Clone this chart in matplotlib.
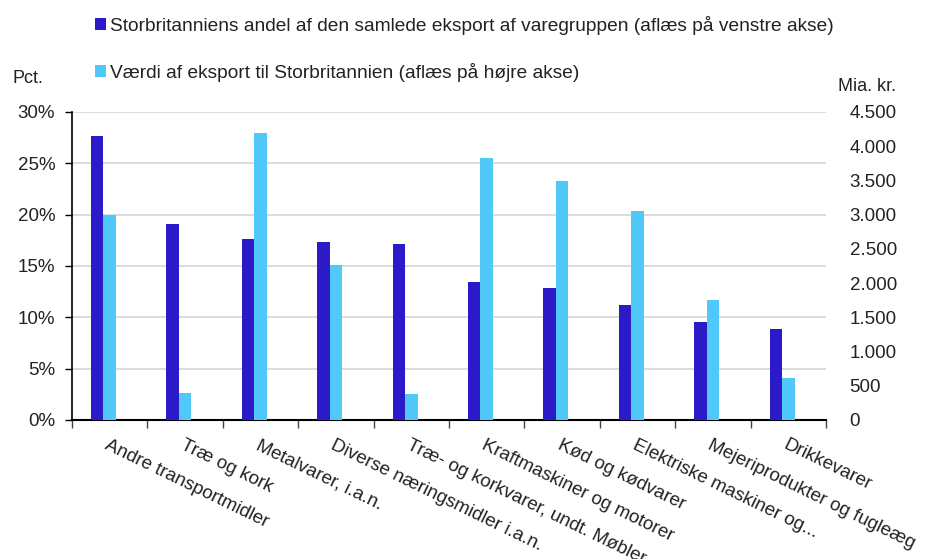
"""
Eksport til Storbritannien - dobbeltakse søjlediagram
=====================================================
Venstre akse: Storbritanniens andel af den samlede eksport af varegruppen (pct.)
Højre akse:   Værdi af eksport til Storbritannien (mia. kr.)
Output: out.png
"""

import matplotlib.pyplot as plt
from matplotlib.patches import Patch
from matplotlib.ticker import FuncFormatter

plt.rcParams["font.family"] = ["Liberation Sans", "DejaVu Sans"]

# ---- data ----
categories = [
    "Andre transportmidler",
    "Træ og kork",
    "Metalvarer, i.a.n.",
    "Diverse næringsmidler i.a.n.",
    "Træ- og korkvarer, undt. Møbler",
    "Kraftmaskiner og motorer",
    "Kød og kødvarer",
    "Elektriske maskiner og...",
    "Mejeriprodukter og fugleæg",
    "Drikkevarer",
]
andel_pct = [27.7, 19.1, 17.6, 17.3, 17.1, 13.4, 12.9, 11.2, 9.5, 8.9]
vaerdi = [2990, 400, 4200, 2270, 385, 3830, 3490, 3055, 1755, 620]

left_ticks = [0, 5, 10, 15, 20, 25, 30]
right_ticks = [0, 500, 1000, 1500, 2000, 2500, 3000, 3500, 4000, 4500]

label_andel = "Storbritanniens andel af den samlede eksport af varegruppen (aflæs på venstre akse)"
label_vaerdi = "Værdi af eksport til Storbritannien (aflæs på højre akse)"

DARK = "#2b1ac8"
LIGHT = "#50c8f8"
GRID = "#d9d9d9"


def thousands(v, _pos) -> str:
    """Danish thousands separator: 4500 -> '4.500'."""
    return f"{v:,.0f}".replace(",", ".")


def plot_chart(output_path: str = "out.png") -> None:
    fig = plt.figure(figsize=(9.25, 5.59), dpi=100)
    ax1 = fig.add_axes([72 / 925, 1 - 420 / 559, (826 - 72) / 925, (420 - 112) / 559])
    ax2 = ax1.twinx()

    n = len(categories)
    centers = list(range(n))
    width = 0.165

    # light bar sits on the category centre, dark bar just left of it
    ax1.bar([c - width for c in centers], andel_pct, width=width, align="center",
            color=DARK, zorder=3)
    ax2.bar(centers, vaerdi, width=width, align="center", color=LIGHT, zorder=3)

    # ---- left axis ----
    ax1.set_xlim(-0.5, n - 0.5)
    ax1.set_ylim(0, 30)
    ax1.set_yticks(left_ticks)
    ax1.yaxis.set_major_formatter(FuncFormatter(lambda v, p: f"{v:.0f}%"))
    ax1.yaxis.grid(True, color=GRID, linewidth=1.3, zorder=0)
    ax1.set_axisbelow(True)
    ax1.tick_params(axis="y", length=5, width=1, pad=7, labelsize=13.5,
                    labelcolor="#222222", color="black")

    # x: major ticks at the category boundaries, labels on minor ticks at centres
    ax1.set_xticks([c - 0.5 for c in centers] + [n - 0.5])
    ax1.set_xticklabels([])
    ax1.tick_params(axis="x", which="major", length=6, width=1, color="#444444")
    ax1.set_xticks(centers, minor=True)
    ax1.set_xticklabels(categories, minor=True, rotation=-26, ha="left", va="top",
                        rotation_mode="anchor", fontsize=13.5, color="#222222")
    ax1.tick_params(axis="x", which="minor", length=0, pad=12)

    for side in ("top", "right"):
        ax1.spines[side].set_visible(False)
    ax1.spines["left"].set_linewidth(1.2)
    ax1.spines["bottom"].set_linewidth(1.5)

    # ---- right axis ----
    ax2.set_ylim(0, 4500)
    ax2.set_yticks(right_ticks)
    ax2.yaxis.set_major_formatter(FuncFormatter(thousands))
    ax2.tick_params(axis="y", length=0, pad=17, labelsize=13.5, labelcolor="#222222")
    for side in ("top", "right", "left", "bottom"):
        ax2.spines[side].set_visible(False)

    # ---- axis unit labels ----
    fig.text(12 / 925, 1 - 83 / 559, "Pct.", fontsize=13, color="#222222", va="baseline")
    fig.text(838 / 925, 1 - 91 / 559, "Mia. kr.", fontsize=13, color="#222222", va="baseline")

    # ---- legend above the plot ----
    handles = [Patch(facecolor=DARK, label=label_andel),
               Patch(facecolor=LIGHT, label=label_vaerdi)]
    fig.legend(handles=handles, loc="upper left", bbox_to_anchor=(95 / 925, 1 - 16 / 559),
               frameon=False, fontsize=13.8, handlelength=0.58, handleheight=0.58,
               handletextpad=0.2, labelspacing=1.45, borderpad=0, borderaxespad=0,
               labelcolor="#222222")

    fig.savefig(output_path, dpi=100)
    plt.close(fig)


def main() -> None:
    plot_chart()


if __name__ == "__main__":
    main()
